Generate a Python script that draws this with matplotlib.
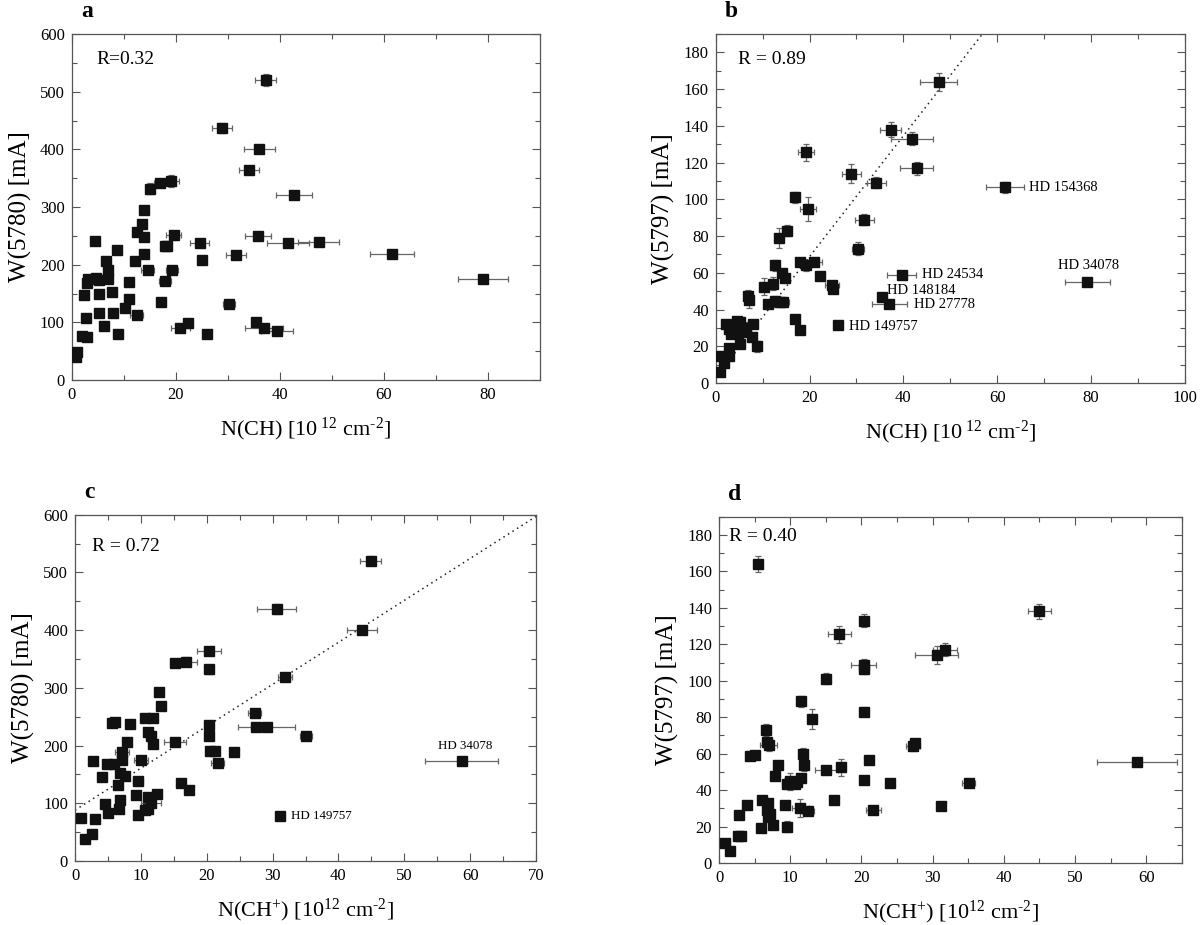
import numpy as np
import matplotlib
matplotlib.use("Agg")
import matplotlib.pyplot as plt
from matplotlib.ticker import MultipleLocator

plt.rcParams['font.family'] = ['Liberation Serif', 'DejaVu Serif']
plt.rcParams['mathtext.fontset'] = 'custom'
plt.rcParams['mathtext.rm'] = 'Liberation Serif'
plt.rcParams['mathtext.it'] = 'Liberation Serif:italic'
plt.rcParams['mathtext.bf'] = 'Liberation Serif:bold'

# ---- panel a : W(5780) vs N(CH)
a_x = [37.3, 28.9, 36.1, 34.1, 42.8, 15.0, 16.9, 19.2, 14.0, 13.5, 12.6, 14.0, 19.6, 35.9, 41.6,
       47.5, 24.6, 61.6, 31.6, 25.1, 18.0, 18.4, 4.4, 8.7, 6.6, 12.2, 13.9, 6.9, 14.6, 19.3, 79.2,
       2.9, 3.1, 4.7, 5.2, 6.9, 11.0, 18.0, 2.4, 5.2, 7.7, 11.0, 17.1, 30.3, 10.3, 5.3, 8.0, 12.5,
       2.8, 6.3, 20.9, 22.3, 35.4, 37.0, 39.5, 26.0, 8.9, 1.9, 3.0, 1.1, 0.9]
a_y = [520, 437, 400, 365, 320, 332, 342, 345, 294, 270, 257, 248, 251, 250, 238,
       240, 238, 218, 217, 208, 233, 232, 241, 225, 207, 206, 218, 191, 191, 190, 176,
       169, 175, 177, 173, 176, 170, 171, 147, 149, 153, 140, 136, 132, 124, 117, 117, 112,
       108, 94, 91, 99, 101, 91, 85, 79, 80, 76, 75, 48, 40]
a_xerr = [2.1, 2.0, 3.0, 2.0, 3.5, 0.8, 1.0, 1.5, 0, 0.7, 0, 0, 1.5, 2.5, 4.0,
          4.0, 1.8, 4.2, 2.0, 0, 0.6, 0.6, 0, 0, 0, 0, 0, 0, 1.3, 1.2, 4.8,
          0, 0, 0, 0, 0, 0, 1.2, 0, 0, 0, 0, 0.7, 1.1, 0, 0, 0, 1.3,
          0, 0, 1.8, 0.6, 0, 3.7, 3.1, 0, 0, 0, 0, 0, 0]
a_yerr = [10, 9, 5, 5, 5, 9, 6, 10, 5, 6, 5, 5, 8, 5, 5,
          5, 5, 5, 5, 5, 5, 5, 0, 0, 0, 0, 0, 0, 5, 5, 5,
          0, 0, 0, 0, 0, 0, 0, 0, 0, 0, 0, 0, 5, 0, 0, 0, 0,
          0, 0, 5, 5, 0, 5, 5, 0, 0, 0, 0, 0, 0]

# ---- panel b : W(5797) vs N(CH)
b_x = [47.5, 37.3, 41.8, 42.8, 19.2, 28.9, 34.2, 61.7, 17.0, 19.6, 31.7, 15.1, 13.5, 30.3, 20.9,
       18.0, 19.2, 12.6, 22.3, 14.1, 14.7, 39.6, 10.3, 12.3, 24.7, 25.1, 79.2, 35.4, 37.0, 6.8,
       7.0, 11.1, 12.6, 13.7, 14.4, 17.0, 18.0, 26.1, 2.3, 2.8, 3.2, 4.5, 5.2, 4.8, 6.5,
       5.6, 8.0, 7.7, 8.9, 5.2, 2.8, 2.9, 1.1, 1.8, 1.0]
b_y = [164, 138, 133, 117, 125.5, 114, 109, 106.6, 101, 94.6, 89, 83, 79, 73, 66,
       65.7, 64, 64, 58.5, 60, 57, 59, 52.5, 54, 53.5, 51, 55, 46.7, 43, 47.6,
       45, 43, 44.5, 44, 44, 35, 29, 31.4, 32, 29.4, 26.7, 34, 33, 27, 30,
       28, 32, 25, 20, 21, 19, 14.5, 14.5, 11, 6]
b_xerr = [4.0, 2.2, 4.5, 3.5, 1.7, 2.0, 2.0, 4.0, 0.7, 1.7, 2.0, 0.7, 0.7, 1.2, 1.8,
          0.6, 0.8, 0.6, 0, 0, 0, 3.0, 0.8, 0.6, 1.5, 0, 4.8, 0, 3.8, 0.5,
          0.5, 0.6, 1.0, 1.0, 1.3, 0.6, 0.6, 0, 0, 0, 0, 0, 0, 0, 0,
          0, 0, 0, 0, 0, 0, 0, 0, 0, 0]
b_yerr = [5, 4, 3.5, 3.5, 4.5, 5, 3, 3, 3, 6.5, 3, 3, 5.5, 3.5, 2,
          2, 3, 3, 0, 2, 2, 0, 4.5, 3.5, 2, 0, 0, 0, 0, 3,
          4, 2, 3, 2, 2, 0, 0, 0, 2, 2, 2, 2, 2, 2, 3,
          2, 2, 2, 3, 0, 0, 0, 0, 0, 0]
b_names = ["HD 154368", "HD 24534", "HD 148184", "HD 27778", "HD 149757", "HD 34078"]
b_name_x = [66.8, 43.9, 36.6, 42.3, 28.5, 72.9]
b_name_y = [106.6, 58.8, 50.5, 42.7, 30.7, 64.0]
b_fit = (3.29, 3.0)  # slope, intercept

# ---- panel c : W(5780) vs N(CH+)
c_x = [44.9, 30.6, 43.6, 20.4, 15.2, 16.9, 20.3, 31.9, 12.7, 13.1,
       27.3, 10.7, 11.8, 5.6, 6.1, 8.3, 20.4, 27.5, 29.1, 11.1,
       11.6, 20.3, 35.1, 7.9, 11.9, 15.2, 7.1, 20.5, 21.2, 24.1,
       2.8, 4.8, 5.9, 7.1, 10.0, 58.7, 21.7, 6.9, 7.6, 4.1,
       9.6, 16.1, 17.3, 6.6, 9.3, 12.5, 11.1, 6.8, 11.5, 4.6,
       11.1, 10.7, 6.7, 4.95, 9.5, 3.1, 0.9, 31.2, 2.6, 1.5]
c_y = [520.5, 436.7, 400, 364.5, 342.6, 345, 332, 319.5, 293.5, 269,
       256.5, 248, 247, 239, 240, 237.5, 236, 232, 231.7, 224,
       216, 217, 217, 206, 203, 206, 189, 190.6, 191, 189.5,
       173, 168.7, 168, 175, 175, 174, 170, 152, 147, 145.6,
       138, 135, 123, 131, 115, 115.5, 111, 106, 101, 98,
       90, 88, 89.5, 84, 79, 73.4, 74.5, 78, 46, 38.7]
c_xerr = [1.6, 3.0, 2.3, 1.8, 0.5, 1.6, 0.5, 1.1, 0, 0,
          1.0, 0, 0, 0, 0, 0, 0, 0.8, 4.3, 0,
          0, 0, 0.9, 0, 0, 1.7, 1.1, 0, 0, 0,
          0, 0, 0, 0.5, 1.1, 5.6, 1.0, 0, 0, 0,
          0.8, 0, 0, 0, 0, 0, 0, 0, 1.5, 0,
          0, 0, 0, 0, 0, 0, 0.5, 0, 0, 0]
c_yerr = [8, 8, 5, 5, 5, 8, 8, 5, 0, 0,
          5, 0, 0, 0, 0, 0, 0, 0, 5, 0,
          0, 0, 0, 0, 0, 0, 0, 0, 0, 0,
          0, 0, 0, 0, 0, 5, 0, 0, 0, 0,
          0, 0, 0, 0, 0, 0, 0, 0, 0, 0,
          0, 0, 0, 0, 0, 0, 0, 0, 0, 0]
c_names = ["HD 34078", "HD 149757"]
c_name_x = [59.3, 32.8]
c_name_y = [200, 78]
c_fit = (7.27, 88.0)

# ---- panel d : W(5797) vs N(CH+)
d_x = [5.5, 45.0, 20.3, 16.9, 30.6, 31.8, 20.3, 20.3, 15.1, 11.5,
       20.3, 13.1, 6.6, 6.7, 7.0, 27.2, 27.5, 4.4, 5.0, 11.8,
       8.3, 11.9, 21.1, 58.7, 15.1, 17.2, 7.8, 11.5, 20.4, 24.0,
       35.1, 9.5, 10.0, 10.7, 11.0, 6.1, 6.9, 16.1, 4.0, 9.3,
       31.2, 11.4, 12.5, 21.7, 6.8, 7.1, 2.8, 6.9, 7.6, 5.9,
       9.5, 2.7, 3.1, 0.9, 1.5]
d_y = [164, 138, 133, 125.4, 114, 117, 108.7, 106.7, 101, 88.8,
       83, 79, 73, 66.3, 64.5, 64.3, 65.6, 58.5, 59, 60,
       53.5, 54, 56.6, 55.2, 51.2, 52.5, 47.9, 46.8, 45.7, 44,
       44, 43.5, 44.8, 43.3, 44.4, 34.4, 33, 34.7, 31.6, 32,
       31.4, 30.2, 28.7, 29.2, 29.2, 26.9, 26.3, 25, 21, 19,
       20, 14.6, 14.6, 11, 6.4]
d_xerr = [0, 1.6, 0.4, 1.6, 3.0, 1.7, 1.8, 0.4, 0.4, 0.4,
          0.4, 0, 0, 0, 1.2, 1.0, 0.5, 0, 0, 0,
          0.5, 0, 0.4, 5.6, 1.6, 0, 0, 0, 0, 0.4,
          0.9, 0.6, 0, 0, 0, 0, 0, 0, 0, 0,
          0, 1.2, 0.8, 1.0, 0, 0, 0, 0, 0, 0,
          0, 0, 0, 0.7, 0]
d_yerr = [4.5, 4, 3.5, 4.5, 5, 3.5, 3, 3, 3, 3,
          2.5, 5.5, 3.5, 2, 3, 3, 2, 0, 0, 3,
          2, 3.5, 2, 0, 0, 4.5, 0, 0, 2, 2,
          0, 3, 4.5, 0, 0, 0, 2, 0, 2, 0,
          0, 5, 0, 0, 0, 0, 0, 0, 0, 0,
          3, 0, 0, 0, 0]

R_text = ["R=0.32", "R = 0.89", "R = 0.72", "R = 0.40"]
R_pos = [(4.8, 555), (4.75, 176), (2.6, 545), (1.4, 179)]
panel_tags = ["a", "b", "c", "d"]

xl_ch = r"N(CH) [10$^{\ 12}$ cm$^{\text{-2}}$]"
xl_chp = r"N(CH$^{+}$) [10$^{12}$ cm$^{\text{-2}}$]"
yl_5780 = "W(5780) [mA]"
yl_5797 = "W(5797) [mA]"

fig = plt.figure(figsize=(12, 9.25), dpi=100)
W, H = 1200, 925
boxes = [(71.7, 539.5, 34, 380), (715.7, 1185, 34, 383),
         (75, 536, 514.7, 861), (719, 1181.7, 516.7, 863)]
axes = []
for l, r, t, b in boxes:
    axes.append(fig.add_axes([l / W, 1 - b / H, (r - l) / W, (b - t) / H]))

spine_c = "#555555"
err_c = "#666666"


def draw(ax, x, y, xe, ye):
    ax.errorbar(x, y, xerr=xe, yerr=ye, fmt="none", ecolor=err_c,
                elinewidth=0.9, capsize=2.5, capthick=0.9, zorder=2)
    ax.plot(x, y, "s", color="#111111", ms=6.5, mec="#111111", zorder=3)


def style(ax, xlim, ylim, xmaj, xmin, ymaj, ymin):
    ax.set_xlim(*xlim)
    ax.set_ylim(*ylim)
    ax.xaxis.set_major_locator(MultipleLocator(xmaj))
    ax.xaxis.set_minor_locator(MultipleLocator(xmin))
    ax.yaxis.set_major_locator(MultipleLocator(ymaj))
    ax.yaxis.set_minor_locator(MultipleLocator(ymin))
    ax.tick_params(which="both", direction="in", top=True, right=True,
                   color=spine_c, labelsize=12, pad=5)
    ax.tick_params(which="major", length=6, width=0.8)
    ax.tick_params(which="minor", length=3.5, width=0.8)
    for s in ax.spines.values():
        s.set_color(spine_c)
        s.set_linewidth(0.9)


def labels(ax, xl, yl):
    ax.set_xlabel(xl, fontsize=16, labelpad=9)
    ax.set_ylabel(yl, fontsize=18, labelpad=6)


ax = axes[0]
draw(ax, a_x, a_y, a_xerr, a_yerr)
style(ax, (0, 90), (0, 600), 20, 10, 100, 50)
labels(ax, xl_ch, yl_5780)

ax = axes[1]
draw(ax, b_x, b_y, b_xerr, b_yerr)
xf = np.array([4.0, 60.0])
ax.plot(xf, b_fit[0] * xf + b_fit[1], ls=(0, (1, 2.5)), color="#222222", lw=1.1, zorder=1)
for n, tx, ty in zip(b_names, b_name_x, b_name_y):
    ax.text(tx, ty, n, fontsize=10.5, va="center", ha="left")
style(ax, (0, 100), (0, 190), 20, 10, 20, 10)
labels(ax, xl_ch, yl_5797)

ax = axes[2]
draw(ax, c_x, c_y, c_xerr, c_yerr)
xf = np.array([0.0, 70.0])
ax.plot(xf, c_fit[0] * xf + c_fit[1], ls=(0, (1, 2.5)), color="#222222", lw=1.1, zorder=1)
for n, tx, ty in zip(c_names, c_name_x, c_name_y):
    ax.text(tx, ty, n, fontsize=9.3, va="center",
            ha="center" if n == "HD 34078" else "left")
style(ax, (0, 70), (0, 600), 10, 5, 100, 50)
labels(ax, xl_chp, yl_5780)

ax = axes[3]
draw(ax, d_x, d_y, d_xerr, d_yerr)
style(ax, (0, 65), (0, 190), 10, 5, 20, 10)
labels(ax, xl_chp, yl_5797)

for ax, txt, (rx, ry), tag in zip(axes, R_text, R_pos, panel_tags):
    ax.text(rx, ry, txt, fontsize=14, va="center", ha="left")
    ax.text(0.02, 1.035, tag, transform=ax.transAxes, fontsize=17,
            fontweight="bold", va="bottom", ha="left")

fig.savefig("out.png", dpi=100)
